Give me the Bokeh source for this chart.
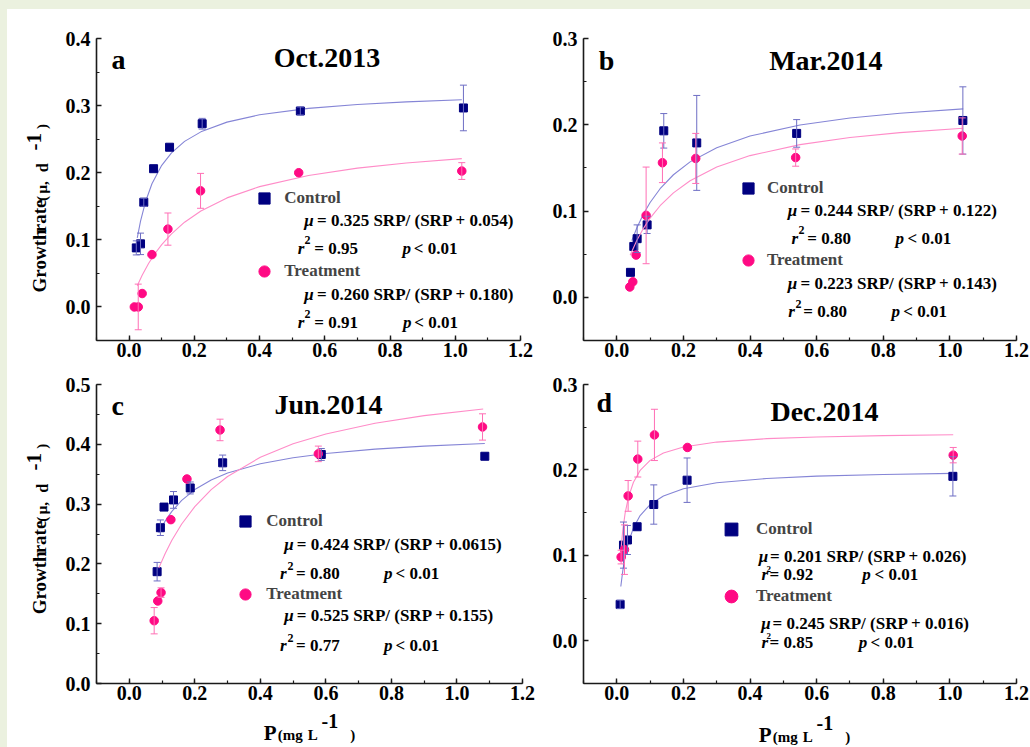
import math
from bokeh.plotting import figure
from bokeh.models import (Range1d, SingleIntervalTicker, NumeralTickFormatter, Label,
                          Legend, LegendItem, Whisker, ColumnDataSource, Spacer, TeeHead)
from bokeh.layouts import row, column
from bokeh.embed import file_html
from bokeh.resources import INLINE

# ---------------- data ----------------
# Panel a  Oct.2013
a_ctrl_x = [0.022, 0.035, 0.045, 0.075, 0.124, 0.224, 0.525, 1.025]
a_ctrl_y = [0.088, 0.094, 0.156, 0.206, 0.238, 0.273, 0.292, 0.2965]
a_ctrl_err = [0.0105, 0.016, 0.006, 0.0, 0.0, 0.008, 0.006, 0.034]
a_trt_x = [0.016, 0.028, 0.040, 0.070, 0.119, 0.219, 0.520, 1.020]
a_trt_y = [0.0, 0.0, 0.020, 0.078, 0.116, 0.173, 0.200, 0.2025]
a_trt_err = [0.0, 0.034, 0.0, 0.0, 0.024, 0.026, 0.0, 0.0125]
a_ctrl_fit_x = [0.025, 0.035, 0.05, 0.07, 0.1, 0.13, 0.17, 0.22, 0.3, 0.4, 0.55, 0.7, 0.85, 1.02]
a_ctrl_fit_y = [0.1028, 0.1278, 0.1563, 0.1835, 0.2110, 0.2296, 0.2467, 0.2609, 0.2754, 0.2863, 0.2959, 0.3017, 0.3056, 0.3087]
a_trt_fit_x = [0.025, 0.04, 0.06, 0.08, 0.1, 0.13, 0.17, 0.22, 0.3, 0.4, 0.55, 0.7, 0.85, 1.02]
a_trt_fit_y = [0.0317, 0.0473, 0.065, 0.08, 0.0929, 0.1090, 0.1263, 0.143, 0.1625, 0.1793, 0.1959, 0.2068, 0.2146, 0.221]

# Panel b  Mar.2014
b_ctrl_x = [0.041, 0.051, 0.061, 0.091, 0.141, 0.240, 0.540, 1.039]
b_ctrl_y = [0.029, 0.059, 0.068, 0.084, 0.193, 0.179, 0.190, 0.205]
b_ctrl_err = [0.0, 0.0, 0.016, 0.010, 0.020, 0.055, 0.016, 0.039]
b_trt_x = [0.039, 0.048, 0.058, 0.088, 0.137, 0.237, 0.537, 1.037]
b_trt_y = [0.012, 0.018, 0.049, 0.095, 0.156, 0.161, 0.162, 0.187]
b_trt_err = [0.0, 0.0, 0.0, 0.056, 0.023, 0.029, 0.010, 0.021]
b_ctrl_fit_x = [0.045, 0.06, 0.08, 0.1, 0.13, 0.17, 0.22, 0.3, 0.4, 0.55, 0.7, 0.85, 1.04]
b_ctrl_fit_y = [0.0657, 0.0804, 0.0966, 0.1099, 0.1259, 0.1421, 0.1570, 0.1735, 0.1870, 0.1997, 0.2078, 0.2134, 0.2184]
b_trt_fit_x = [0.04, 0.06, 0.08, 0.1, 0.13, 0.17, 0.22, 0.3, 0.4, 0.55, 0.7, 0.85, 1.04]
b_trt_fit_y = [0.0487, 0.0659, 0.0800, 0.0918, 0.1062, 0.1211, 0.1352, 0.1510, 0.1643, 0.1770, 0.1852, 0.1909, 0.1960]

# Panel c  Jun.2014
c_ctrl_x = [0.085, 0.095, 0.106, 0.135, 0.186, 0.285, 0.586, 1.085]
c_ctrl_y = [0.187, 0.2605, 0.295, 0.307, 0.327, 0.369, 0.383, 0.380]
c_ctrl_err = [0.0155, 0.013, 0.0, 0.014, 0.010, 0.013, 0.010, 0.0]
c_trt_x = [0.076, 0.087, 0.097, 0.127, 0.176, 0.277, 0.577, 1.078]
c_trt_y = [0.105, 0.138, 0.152, 0.274, 0.342, 0.424, 0.384, 0.429]
c_trt_err = [0.022, 0.0, 0.008, 0.0, 0.0, 0.018, 0.013, 0.022]
c_ctrl_fit_x = [0.09, 0.11, 0.13, 0.16, 0.2, 0.25, 0.3, 0.4, 0.5, 0.6, 0.75, 0.9, 1.085]
c_ctrl_fit_y = [0.2519, 0.2720, 0.2878, 0.3063, 0.3243, 0.3403, 0.3519, 0.3675, 0.3776, 0.3846, 0.3919, 0.3969, 0.4013]
c_trt_fit_x = [0.09, 0.11, 0.13, 0.16, 0.2, 0.25, 0.3, 0.4, 0.5, 0.6, 0.75, 0.9, 1.08]
c_trt_fit_y = [0.1929, 0.2179, 0.2395, 0.2667, 0.2958, 0.3241, 0.3462, 0.3784, 0.4008, 0.4172, 0.4351, 0.4479, 0.4591]

# Panel d  Dec.2014
d_ctrl_x = [0.010, 0.020, 0.032, 0.061, 0.111, 0.211, 1.009]
d_ctrl_y = [0.0426, 0.112, 0.118, 0.1335, 0.1595, 0.188, 0.1925]
d_ctrl_err = [0.005, 0.027, 0.017, 0.0, 0.023, 0.026, 0.023]
d_trt_x = [0.013, 0.023, 0.034, 0.063, 0.113, 0.212, 1.010]
d_trt_y = [0.098, 0.1067, 0.1696, 0.2127, 0.241, 0.2263, 0.2173]
d_trt_err = [0.008, 0.029, 0.018, 0.021, 0.030, 0.0, 0.009]
d_ctrl_fit_x = [0.012, 0.018, 0.025, 0.035, 0.05, 0.07, 0.1, 0.14, 0.2, 0.3, 0.45, 0.6, 0.8, 1.01]
d_ctrl_fit_y = [0.0635, 0.0822, 0.0985, 0.1153, 0.1322, 0.1466, 0.1595, 0.1695, 0.1779, 0.1850, 0.1900, 0.1927, 0.1947, 0.1960]
d_trt_fit_x = [0.012, 0.018, 0.025, 0.035, 0.05, 0.07, 0.1, 0.14, 0.2, 0.3, 0.45, 0.6, 0.8, 1.01]
d_trt_fit_y = [0.105, 0.1297, 0.1494, 0.1681, 0.1856, 0.1994, 0.2112, 0.2199, 0.2269, 0.2326, 0.2366, 0.2386, 0.2402, 0.2412]

titles = ["Oct.2013", "Mar.2014", "Jun.2014", "Dec.2014"]
letters = ["a", "b", "c", "d"]
equations_ctrl = ["= 0.325 SRP/ (SRP + 0.054)", "= 0.244 SRP/ (SRP + 0.122)",
                  "= 0.424 SRP/ (SRP + 0.0615)", "= 0.201 SRP/ (SRP + 0.026)"]
equations_trt = ["= 0.260 SRP/ (SRP + 0.180)", "= 0.223 SRP/ (SRP + 0.143)",
                 "= 0.525 SRP/ (SRP + 0.155)", "= 0.245 SRP/ (SRP + 0.016)"]
r2_ctrl = ["= 0.95", "= 0.80", "= 0.80", "= 0.92"]
r2_trt = ["= 0.91", "= 0.80", "= 0.77", "= 0.85"]
p_text = "< 0.01"

# ---------------- styling ----------------
SERIF = "Liberation Serif"
NAVY = "#000080"
PINK = "#ff0a84"
NAVY_LINE = "#8585d6"
PINK_LINE = "#ff8cc8"
NAVY_ERR = "#6e6ec4"
PINK_ERR = "#ff6fb5"
BG = "#ebf1df"
EPS = 1e-6


def make_panel(geo, fw, fh, ymax, yint):
    p = figure(width=fw, height=fh, output_backend="svg", toolbar_location=None,
               x_range=Range1d(-0.1, 1.2 + EPS), y_range=Range1d(geo["yr"][0], ymax + EPS),
               min_border_left=geo["bl"], min_border_right=geo["br"],
               min_border_top=geo["bt"], min_border_bottom=geo["bb"])
    p.outline_line_color = None
    p.grid.visible = False
    p.background_fill_color = "white"
    p.border_fill_color = "white"
    p.xaxis.ticker = SingleIntervalTicker(interval=0.2, num_minor_ticks=2)
    p.yaxis.ticker = SingleIntervalTicker(interval=yint, num_minor_ticks=2)
    for ax in (p.xaxis[0], p.yaxis[0]):
        ax.formatter = NumeralTickFormatter(format="0.0")
        ax.major_tick_in = 5
        ax.major_tick_out = 0
        ax.minor_tick_in = 3
        ax.minor_tick_out = 0
        ax.axis_line_width = 1.6
        ax.axis_line_color = "#1a1a1a"
        ax.major_tick_line_width = 1.4
        ax.minor_tick_line_width = 1.2
        ax.major_tick_line_color = "#1a1a1a"
        ax.minor_tick_line_color = "#1a1a1a"
        ax.major_label_text_font = SERIF
        ax.major_label_text_font_size = "20px"
        ax.major_label_text_font_style = "bold"
        ax.major_label_text_color = "black"
    p.xaxis.major_label_standoff = 2
    p.yaxis.major_label_standoff = 6
    return p


def make_strip(w, h):
    s = figure(width=w, height=h, output_backend="svg", toolbar_location=None,
               x_range=Range1d(0, w), y_range=Range1d(0, h),
               x_axis_type=None, y_axis_type=None,
               min_border_left=0, min_border_right=0, min_border_top=0, min_border_bottom=0)
    s.outline_line_color = None
    s.grid.visible = False
    s.background_fill_color = "white"
    s.border_fill_color = "white"
    return s


def put(p, g, px, py, text, size, style="bold", align="left", angle=0.0):
    # g: frame geometry in page pixels; (px, py) is the text's anchor in page pixels
    x0, x1 = g["xr"]
    y0, y1 = g["yr"]
    dx = x0 + (px - g["L"]) / g["W"] * (x1 - x0)
    dy = y1 - (py - g["T"]) / g["H"] * (y1 - y0)
    p.add_layout(Label(x=dx, y=dy, text=text, text_font=SERIF, text_font_size=f"{size}px",
                       text_font_style=style, text_align=align, text_baseline="middle",
                       angle=angle, text_color="black"))


def add_series(p, xs, ys, errs, fx, fy, color, lcolor, ecolor, marker):
    p.line(fx, fy, line_color=lcolor, line_width=1.1)
    ex = [x for x, e in zip(xs, errs) if e > 0]
    eu = [y + e for y, e in zip(ys, errs) if e > 0]
    el = [y - e for y, e in zip(ys, errs) if e > 0]
    src = ColumnDataSource(dict(x=ex, upper=eu, lower=el))
    w = Whisker(source=src, base="x", upper="upper", lower="lower", line_color=ecolor, line_width=1,
                upper_head=TeeHead(size=7, line_color=ecolor, line_width=1),
                lower_head=TeeHead(size=7, line_color=ecolor, line_width=1), level="glyph")
    p.add_layout(w)
    r = p.scatter(xs, ys, marker=marker, size=8 if marker == "square" else 8.5,
                  fill_color=color, line_color=color)
    return r


def add_legend(p, g, rc, rt, gx, yc, yt, glyph, standoff):
    left = gx - glyph / 2.0
    bottom = yt + glyph / 2.0
    leg = Legend(items=[LegendItem(label="Control", renderers=[rc]),
                        LegendItem(label="Treatment", renderers=[rt])],
                 location=(left - g["L"], (g["T"] + g["H"]) - bottom),
                 glyph_width=glyph, glyph_height=glyph, spacing=int(round(yt - yc - glyph)),
                 label_standoff=standoff, padding=0, margin=0,
                 border_line_alpha=0, background_fill_alpha=0,
                 label_text_font=SERIF, label_text_font_size="17px", label_text_font_style="bold")
    p.add_layout(leg)


def block(p, g, eq_ctrl, eq_trt, r_c, r_t, L):
    for (mu_x, eq_x, yc, eq) in ((L["mu1"], L["eq1"], L["y_eq1"], eq_ctrl),
                                 (L["mu2"], L["eq2"], L["y_eq2"], eq_trt)):
        put(p, g, mu_x, yc, "μ", 17, style="bold italic")
        put(p, g, eq_x, yc, eq, 17)
    for (rx, sx, ex, yc, px, lx, rt) in ((L["r1"], L["s1"], L["e1"], L["y_r1"], L["p1"], L["lt1"], r_c),
                                         (L["r2"], L["s2"], L["e2"], L["y_r2"], L["p2"], L["lt2"], r_t)):
        put(p, g, rx, yc, "r", 17, style="bold italic")
        put(p, g, sx, yc - L["sup_raise"], "2", L["sup_size"])
        put(p, g, ex, yc, rt, 17)
        put(p, g, px, yc, "p", 17, style="bold italic")
        put(p, g, lx, yc, p_text, 17)


# geometry (page pixel positions of each plot frame)
XR = (-0.1, 1.2)
ga = dict(L=95, T=38, W=425, H=302, xr=XR, yr=(-0.05, 0.4), bl=33, br=25, bt=29, bb=24)
gb = dict(L=583, T=38, W=433, H=302, xr=XR, yr=(-0.05, 0.3), bl=38, br=14, bt=29, bb=24)
gc = dict(L=95, T=384, W=427, H=302, xr=XR, yr=(0.0, 0.5), bl=33, br=23, bt=20, bb=24)
gd = dict(L=583, T=382, W=433, H=301, xr=XR, yr=(-0.05, 0.3), bl=38, br=14, bt=18, bb=27)

pa = make_panel(ga, 483, 355, 0.4, 0.1)
pb = make_panel(gb, 485, 355, 0.3, 0.1)
pc = make_panel(gc, 483, 346, 0.5, 0.1)
pd = make_panel(gd, 485, 346, 0.3, 0.1)

# side strips holding the axis titles (page x 7..62, page y 9..364 / 364..710 / 710..747)
ya = make_strip(55, 355)
yc_strip = make_strip(55, 346)
xs_strip = make_strip(1023, 37)
g_ya = dict(L=7, T=9, W=55, H=355, xr=(0, 55), yr=(0, 355))
g_yc = dict(L=7, T=364, W=55, H=346, xr=(0, 55), yr=(0, 346))
g_xs = dict(L=7, T=710, W=1023, H=37, xr=(0, 1023), yr=(0, 37))

# series
ra_c = add_series(pa, a_ctrl_x, a_ctrl_y, a_ctrl_err, a_ctrl_fit_x, a_ctrl_fit_y, NAVY, NAVY_LINE, NAVY_ERR, "square")
ra_t = add_series(pa, a_trt_x, a_trt_y, a_trt_err, a_trt_fit_x, a_trt_fit_y, PINK, PINK_LINE, PINK_ERR, "circle")
rb_c = add_series(pb, b_ctrl_x, b_ctrl_y, b_ctrl_err, b_ctrl_fit_x, b_ctrl_fit_y, NAVY, NAVY_LINE, NAVY_ERR, "square")
rb_t = add_series(pb, b_trt_x, b_trt_y, b_trt_err, b_trt_fit_x, b_trt_fit_y, PINK, PINK_LINE, PINK_ERR, "circle")
rc_c = add_series(pc, c_ctrl_x, c_ctrl_y, c_ctrl_err, c_ctrl_fit_x, c_ctrl_fit_y, NAVY, NAVY_LINE, NAVY_ERR, "square")
rc_t = add_series(pc, c_trt_x, c_trt_y, c_trt_err, c_trt_fit_x, c_trt_fit_y, PINK, PINK_LINE, PINK_ERR, "circle")
rd_c = add_series(pd, d_ctrl_x, d_ctrl_y, d_ctrl_err, d_ctrl_fit_x, d_ctrl_fit_y, NAVY, NAVY_LINE, NAVY_ERR, "square")
rd_t = add_series(pd, d_trt_x, d_trt_y, d_trt_err, d_trt_fit_x, d_trt_fit_y, PINK, PINK_LINE, PINK_ERR, "circle")

# legends
add_legend(pa, ga, ra_c, ra_t, 263.3, 197.7, 270.7, 28, 6)
add_legend(pb, gb, rb_c, rb_t, 748.0, 188.3, 260.0, 28, 5)
add_legend(pc, gc, rc_c, rc_t, 244.3, 524.0, 597.3, 28, 7)
add_legend(pd, gd, rd_c, rd_t, 731.0, 529.0, 596.0, 32, 9)

# equation blocks (vertical positions are text centres)
block(pa, ga, equations_ctrl[0], equations_trt[0], r2_ctrl[0], r2_trt[0],
      dict(mu1=303.3, eq1=316, y_eq1=220, mu2=303.3, eq2=316, y_eq2=294,
           r1=296.7, s1=303.5, e1=313.3, y_r1=247.5, p1=401.7, lt1=413,
           r2=296.7, s2=303.5, e2=313.3, y_r2=321.5, p2=402.3, lt2=413.5,
           sup_size=12, sup_raise=8))
block(pb, gb, equations_ctrl[1], equations_trt[1], r2_ctrl[1], r2_trt[1],
      dict(mu1=787.3, eq1=800, y_eq1=210, mu2=787.3, eq2=800, y_eq2=283.3,
           r1=791, s1=798, e1=806.7, y_r1=237.7, p1=895, lt1=907,
           r2=787.7, s2=795, e2=802.7, y_r2=311, p2=891, lt2=902.7,
           sup_size=12, sup_raise=8))
block(pc, gc, equations_ctrl[2], equations_trt[2], r2_ctrl[2], r2_trt[2],
      dict(mu1=283.3, eq1=295.7, y_eq1=546, mu2=283.3, eq2=295.7, y_eq2=617.7,
           r1=279, s1=286.5, e1=295, y_r1=575, p1=383.3, lt1=394.7,
           r2=279, s2=286.5, e2=295, y_r2=647.7, p2=383.3, lt2=394.7,
           sup_size=12, sup_raise=8))
block(pd, gd, equations_ctrl[3], equations_trt[3], r2_ctrl[3], r2_trt[3],
      dict(mu1=758.3, eq1=769.5, y_eq1=555, mu2=760.7, eq2=772, y_eq2=622.7,
           r1=761, s1=766, e1=769, y_r1=573.5, p1=861.7, lt1=874,
           r2=761, s2=766, e2=769, y_r2=641.5, p2=858.3, lt2=870,
           sup_size=9, sup_raise=6))

# titles and panel letters (centres)
put(pa, ga, 326, 57.2, titles[0], 28, align="center")
put(pa, ga, 110, 58.8, letters[0], 28)
put(pb, gb, 825.3, 59.8, titles[1], 28, align="center")
put(pb, gb, 598.3, 59.8, letters[1], 28)
put(pc, gc, 327.5, 403.8, titles[2], 28, align="center")
put(pc, gc, 110, 404.8, letters[2], 28)
put(pd, gd, 824, 409.5, titles[3], 28, align="center")
put(pd, gd, 596, 400.5, letters[3], 28)

# y axis titles (rotated, reading bottom to top); each piece centred on its measured position
for s, g, y0 in ((ya, g_ya, 302), (yc_strip, g_yc, 625)):
    put(s, g, 38.5, y0 - 31.5, "Growth", 19, align="center", angle=math.pi / 2)
    put(s, g, 38.5, y0 - 84.5, "rate", 19, align="center", angle=math.pi / 2)
    put(s, g, 41.5, y0 - 105, "(", 15, align="center", angle=math.pi / 2)
    put(s, g, 41.5, y0 - 118, "μ,", 15, align="center", angle=math.pi / 2)
    put(s, g, 41.5, y0 - 141, "d", 16, align="center", angle=math.pi / 2)
    put(s, g, 33.5, y0 - 171.5, "-1", 21, align="center", angle=math.pi / 2)
    put(s, g, 41.5, y0 - 189.5, ")", 15, align="center", angle=math.pi / 2)

# x axis titles; each piece centred on its measured position
for x0, yc in ((263.3, 732), (758.3, 734.5)):
    put(xs_strip, g_xs, x0 + 6.4, yc, "P", 21, align="center")
    put(xs_strip, g_xs, x0 + 16.5, yc + 2, "(", 15, align="center")
    put(xs_strip, g_xs, x0 + 29, yc + 2, "mg", 15, align="center")
    put(xs_strip, g_xs, x0 + 49, yc + 2, "L", 15, align="center")
    put(xs_strip, g_xs, x0 + 66, yc - 12, "-1", 20, align="center")
    put(xs_strip, g_xs, x0 + 89, yc + 2, ")", 15, align="center")

grid = column(row(ya, pa, pb), row(yc_strip, pc, pd), xs_strip)
top_strip = Spacer(width=1030, height=9, styles={"background-color": BG})
left_strip = Spacer(width=7, height=738, styles={"background-color": BG})
layout = column(top_strip, row(left_strip, grid))

html = file_html(layout, INLINE, title="Growth rate vs P")
html = html.replace("<head>", "<head><style>html,body{margin:0;padding:0;background:white;}</style>", 1)
open("out.html", "w").write(html)
